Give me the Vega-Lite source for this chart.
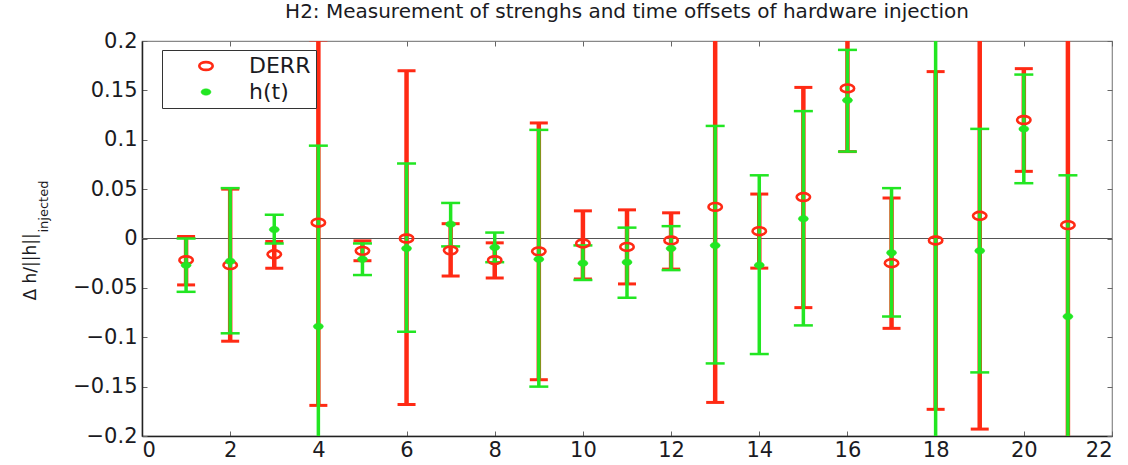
{
  "$schema": "https://vega.github.io/schema/vega-lite/v6.json",
  "width": 970,
  "height": 395,
  "autosize": {"type": "none"},
  "padding": {"left": 142, "top": 41, "right": 16, "bottom": 29},
  "background": "white",
  "title": {"text": "H2: Measurement of strenghs and time offsets of hardware injection", "font": "DejaVu Sans", "fontSize": 20, "fontWeight": "normal", "color": "#1a1a22", "offset": 8, "anchor": "middle"},
  "config": {"view": {"stroke": "#888", "strokeWidth": 1.2}, "font": "DejaVu Sans"},
  "data": {"values": [
    {"s": "DERR", "x": 1, "y": -0.022, "lo": -0.047, "hi": 0.002},
    {"s": "DERR", "x": 2, "y": -0.027, "lo": -0.104, "hi": 0.050},
    {"s": "DERR", "x": 3, "y": -0.016, "lo": -0.030, "hi": -0.003},
    {"s": "DERR", "x": 4, "y": 0.016, "lo": -0.169, "hi": 0.201},
    {"s": "DERR", "x": 5, "y": -0.0125, "lo": -0.0225, "hi": -0.0024},
    {"s": "DERR", "x": 6, "y": 0.000, "lo": -0.168, "hi": 0.170},
    {"s": "DERR", "x": 7, "y": -0.012, "lo": -0.038, "hi": 0.015},
    {"s": "DERR", "x": 8, "y": -0.022, "lo": -0.040, "hi": -0.0044},
    {"s": "DERR", "x": 9, "y": -0.013, "lo": -0.143, "hi": 0.117},
    {"s": "DERR", "x": 10, "y": -0.005, "lo": -0.041, "hi": 0.028},
    {"s": "DERR", "x": 11, "y": -0.0085, "lo": -0.046, "hi": 0.029},
    {"s": "DERR", "x": 12, "y": -0.002, "lo": -0.031, "hi": 0.026},
    {"s": "DERR", "x": 13, "y": 0.032, "lo": -0.166, "hi": 0.230},
    {"s": "DERR", "x": 14, "y": 0.0074, "lo": -0.030, "hi": 0.045},
    {"s": "DERR", "x": 15, "y": 0.042, "lo": -0.070, "hi": 0.153},
    {"s": "DERR", "x": 16, "y": 0.152, "lo": 0.088, "hi": 0.216},
    {"s": "DERR", "x": 17, "y": -0.025, "lo": -0.091, "hi": 0.041},
    {"s": "DERR", "x": 18, "y": -0.002, "lo": -0.173, "hi": 0.169},
    {"s": "DERR", "x": 19, "y": 0.023, "lo": -0.193, "hi": 0.239},
    {"s": "DERR", "x": 20, "y": 0.120, "lo": 0.068, "hi": 0.172},
    {"s": "DERR", "x": 21, "y": 0.0135, "lo": -0.300, "hi": 0.330},
    {"s": "h(t)", "x": 1, "y": -0.027, "lo": -0.054, "hi": 0.000},
    {"s": "h(t)", "x": 2, "y": -0.023, "lo": -0.096, "hi": 0.051},
    {"s": "h(t)", "x": 3, "y": 0.009, "lo": -0.005, "hi": 0.024},
    {"s": "h(t)", "x": 4, "y": -0.089, "lo": -0.272, "hi": 0.094},
    {"s": "h(t)", "x": 5, "y": -0.021, "lo": -0.037, "hi": -0.005},
    {"s": "h(t)", "x": 6, "y": -0.010, "lo": -0.0945, "hi": 0.076},
    {"s": "h(t)", "x": 7, "y": 0.0145, "lo": -0.008, "hi": 0.036},
    {"s": "h(t)", "x": 8, "y": -0.009, "lo": -0.024, "hi": 0.006},
    {"s": "h(t)", "x": 9, "y": -0.021, "lo": -0.150, "hi": 0.110},
    {"s": "h(t)", "x": 10, "y": -0.025, "lo": -0.042, "hi": -0.007},
    {"s": "h(t)", "x": 11, "y": -0.024, "lo": -0.060, "hi": 0.011},
    {"s": "h(t)", "x": 12, "y": -0.010, "lo": -0.032, "hi": 0.0125},
    {"s": "h(t)", "x": 13, "y": -0.007, "lo": -0.1265, "hi": 0.114},
    {"s": "h(t)", "x": 14, "y": -0.027, "lo": -0.117, "hi": 0.064},
    {"s": "h(t)", "x": 15, "y": 0.020, "lo": -0.088, "hi": 0.129},
    {"s": "h(t)", "x": 16, "y": 0.140, "lo": 0.088, "hi": 0.191},
    {"s": "h(t)", "x": 17, "y": -0.0145, "lo": -0.079, "hi": 0.051},
    {"s": "h(t)", "x": 18, "y": 0.250, "lo": -0.350, "hi": 0.850},
    {"s": "h(t)", "x": 19, "y": -0.0125, "lo": -0.1356, "hi": 0.111},
    {"s": "h(t)", "x": 20, "y": 0.111, "lo": 0.056, "hi": 0.166},
    {"s": "h(t)", "x": 21, "y": -0.079, "lo": -0.222, "hi": 0.064}
  ]},
  "resolve": {"scale": {"x": "independent", "y": "independent"}},
  "layer": [
    {
      "data": {"values": [{"k": 0}]},
      "mark": {"type": "rule", "color": "#555", "strokeWidth": 1},
      "encoding": {
        "x": {"datum": 0, "type": "quantitative", "scale": {"domain": [0, 22], "nice": false, "zero": false},
          "axis": {"orient": "top", "values": [0, 2, 4, 6, 8, 10, 12, 14, 16, 18, 20, 22], "labels": false, "tickSize": -5, "tickColor": "#666", "domain": false, "grid": false, "title": null}},
        "x2": {"datum": 22},
        "y": {"datum": 0, "type": "quantitative", "scale": {"domain": [-0.2, 0.2], "nice": false, "zero": false},
          "axis": {"orient": "right", "values": [-0.2, -0.15, -0.1, -0.05, 0, 0.05, 0.1, 0.15, 0.2], "labels": false, "tickSize": -5, "tickColor": "#666", "domain": false, "grid": false, "title": null}}
      }
    },
    {
      "data": {"values": [{"k": 0}]},
      "mark": {"type": "rule", "opacity": 0},
      "encoding": {
        "y": {"datum": 0, "type": "quantitative", "scale": {"domain": [-0.2, 0.2], "nice": false, "zero": false},
          "axis": {"orient": "left", "labels": false, "ticks": false, "domain": false, "grid": false, "title": "injected", "titleFont": "DejaVu Sans", "titleFontSize": 13, "titleFontWeight": "normal", "titleColor": "#1a1a22", "titleAngle": 270, "titleAlign": "left", "titleBaseline": "middle", "titleX": -99, "titleY": 191}}
      }
    },
    {
      "encoding": {
        "x": {"field": "x", "type": "quantitative", "scale": {"domain": [0, 22], "nice": false, "zero": false},
          "axis": {"orient": "bottom", "values": [0, 2, 4, 6, 8, 10, 12, 14, 16, 18, 20, 22], "tickSize": -5, "tickColor": "#666", "labelPadding": 8, "labelFont": "DejaVu Sans", "labelFontSize": 21, "labelColor": "#1a1a22", "domainColor": "#222", "domainWidth": 1.5, "grid": false, "title": null}}
      },
      "layer": [
        {
          "transform": [{"filter": "datum.s === 'DERR'"}],
          "mark": {"type": "rule", "clip": true, "strokeWidth": 4.5, "color": "#ff2a14"},
          "encoding": {
            "y": {"field": "lo", "type": "quantitative", "scale": {"domain": [-0.2, 0.2], "nice": false, "zero": false},
              "axis": {"orient": "left", "values": [-0.2, -0.15, -0.1, -0.05, 0, 0.05, 0.1, 0.15, 0.2], "format": "~g", "tickSize": -5, "tickColor": "#666", "labelPadding": 10, "labelFont": "DejaVu Sans", "labelFontSize": 21, "labelColor": "#1a1a22", "domainColor": "#222", "domainWidth": 1.5, "grid": false,
                "title": "Δ h/||h||", "titleFont": "DejaVu Sans", "titleFontSize": 17, "titleFontWeight": "normal", "titleColor": "#1a1a22", "titleAngle": 270, "titleAlign": "left", "titleBaseline": "middle", "titleX": -112, "titleY": 259}},
            "y2": {"field": "hi"}
          }
        },
        {
          "transform": [{"filter": "datum.s === 'DERR'"}],
          "mark": {"type": "tick", "clip": true, "orient": "horizontal", "size": 18, "thickness": 3, "color": "#ff2a14", "opacity": 1},
          "encoding": {"y": {"field": "lo", "type": "quantitative", "scale": {"domain": [-0.2, 0.2], "nice": false, "zero": false}}}
        },
        {
          "transform": [{"filter": "datum.s === 'DERR'"}],
          "mark": {"type": "tick", "clip": true, "orient": "horizontal", "size": 18, "thickness": 3, "color": "#ff2a14", "opacity": 1},
          "encoding": {"y": {"field": "hi", "type": "quantitative", "scale": {"domain": [-0.2, 0.2], "nice": false, "zero": false}}}
        },
        {
          "transform": [{"filter": "datum.s === 'h(t)'"}],
          "mark": {"type": "rule", "clip": true, "strokeWidth": 3.5, "color": "#22e622"},
          "encoding": {
            "y": {"field": "lo", "type": "quantitative", "scale": {"domain": [-0.2, 0.2], "nice": false, "zero": false}},
            "y2": {"field": "hi"}
          }
        },
        {
          "transform": [{"filter": "datum.s === 'h(t)'"}],
          "mark": {"type": "tick", "clip": true, "orient": "horizontal", "size": 19, "thickness": 2.5, "color": "#22e622", "opacity": 1},
          "encoding": {"y": {"field": "lo", "type": "quantitative", "scale": {"domain": [-0.2, 0.2], "nice": false, "zero": false}}}
        },
        {
          "transform": [{"filter": "datum.s === 'h(t)'"}],
          "mark": {"type": "tick", "clip": true, "orient": "horizontal", "size": 19, "thickness": 2.5, "color": "#22e622", "opacity": 1},
          "encoding": {"y": {"field": "hi", "type": "quantitative", "scale": {"domain": [-0.2, 0.2], "nice": false, "zero": false}}}
        },
        {
          "mark": {"type": "point", "clip": true, "opacity": 1},
          "encoding": {
            "y": {"field": "y", "type": "quantitative", "scale": {"domain": [-0.2, 0.2], "nice": false, "zero": false}},
            "shape": {"field": "s", "type": "nominal", "scale": {"domain": ["DERR", "h(t)"], "range": ["M -1 0 A 1 0.58 0 1 0 1 0 A 1 0.58 0 1 0 -1 0 Z", "M -1 0 A 1 0.65 0 1 0 1 0 A 1 0.65 0 1 0 -1 0 Z"]},
              "legend": {"title": null, "orient": "none", "legendX": 20, "legendY": 9, "strokeColor": "#333", "fillColor": "white", "padding": 5, "symbolOffset": 28, "labelOffset": 32, "rowPadding": 4, "labelFont": "DejaVu Sans", "labelFontSize": 22, "labelColor": "#1a1a22"}},
            "stroke": {"field": "s", "type": "nominal", "scale": {"domain": ["DERR", "h(t)"], "range": ["#ff2a14", "#22e622"]}, "legend": {"title": null}},
            "fill": {"field": "s", "type": "nominal", "scale": {"domain": ["DERR", "h(t)"], "range": ["transparent", "#22e622"]}, "legend": {"title": null}},
            "size": {"field": "s", "type": "nominal", "scale": {"domain": ["DERR", "h(t)"], "range": [180, 100]}, "legend": {"title": null}},
            "strokeWidth": {"field": "s", "type": "nominal", "scale": {"domain": ["DERR", "h(t)"], "range": [2.6, 0.5]}, "legend": {"title": null}}
          }
        }
      ]
    }
  ]
}
